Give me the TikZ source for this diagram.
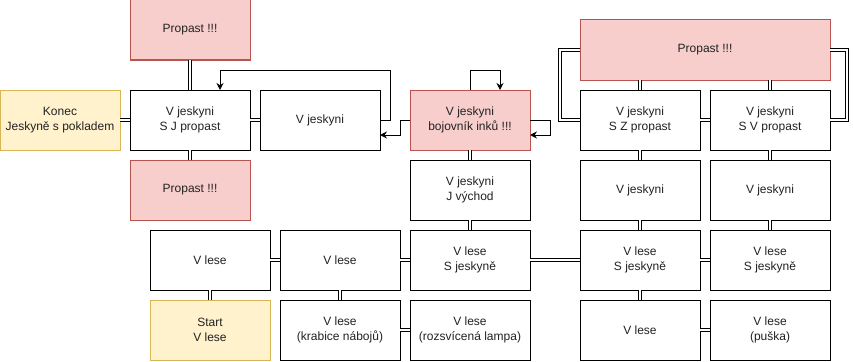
\documentclass[tikz,border=0pt]{standalone}
\usepackage{fontspec}
\setmainfont{Liberation Sans}
\usetikzlibrary{arrows.meta,positioning,calc}
\definecolor{PitFill}{HTML}{F8CECC}
\definecolor{PitLine}{HTML}{B85450}
\definecolor{EndFill}{HTML}{FFF2CC}
\definecolor{EndLine}{HTML}{D6B656}
\definecolor{TextGrey}{HTML}{222222}

\tikzset{
  room/.style={draw=black, fill=white, line width=1pt, minimum width=120pt, minimum height=60pt,
    inner sep=0pt, outer sep=0pt, align=center, text=TextGrey, font=\fontsize{12}{14.4}\selectfont},
  pit/.style={room, draw=PitLine, fill=PitFill},
  goal/.style={room, draw=EndLine, fill=EndFill},
  link/.style={draw=black, line width=1pt, double=white, double distance=2pt},
  arr/.style={draw=black, line width=1pt, -{Stealth[length=7pt,width=7pt]}}
}

\begin{document}
\begin{tikzpicture}[x=1pt, y=1pt, node distance=10pt]
    \useasboundingbox (0,0) rectangle (853,-361);
    % cave, left part
    \node[room] (sj) at (190,-120) {V jeskyni\\S J propast};
    \node[goal, left=of sj] (konec) {Konec\\Jeskyně s pokladem};
    \node[pit, above=30pt of sj] (propT) {Propast !!!};
    \node[pit, below=of sj] (propB) {Propast !!!};
    \node[room, right=of sj] (jes1) {V jeskyni};
    \node[pit, right=30pt of jes1] (boj) {V jeskyni\\bojovník inků !!!};
    \node[room, below=of boj] (jvych) {V jeskyni\\J východ};
    % forest
    \node[room, below=of jvych] (sjes1) {V lese\\S jeskyně};
    \node[room, left=of sjes1] (les2) {V lese};
    \node[room, left=of les2] (les1) {V lese};
    \node[goal, below=of les1] (start) {Start\\V lese};
    \node[room, below=of les2] (krab) {V lese\\(krabice nábojů)};
    \node[room, below=of sjes1] (lampa) {V lese\\(rozsvícená lampa)};
    \node[room, right=50pt of sjes1] (sjes2) {V lese\\S jeskyně};
    \node[room, right=of sjes2] (sjes3) {V lese\\S jeskyně};
    \node[room, below=of sjes2] (les3) {V lese};
    \node[room, right=of les3] (puska) {V lese\\(puška)};
    % cave, right part
    \node[room, above=of sjes2] (jes2) {V jeskyni};
    \node[room, above=of sjes3] (jes3) {V jeskyni};
    \node[room, above=of jes2] (sz) {V jeskyni\\S Z propast};
    \node[room, above=of jes3] (sv) {V jeskyni\\S V propast};
    \node[pit, minimum width=250pt] (propR) at (705,-50) {Propast !!!};

    % two-way passages
    \draw[link] (propT) -- (sj);
    \draw[link] (konec) -- (sj);
    \draw[link] (sj) -- (jes1);
    \draw[link] (sj) -- (propB);
    \draw[link] (boj) -- (jvych);
    \draw[link] (jvych) -- (sjes1);
    \draw[link] (les1) -- (les2);
    \draw[link] (les2) -- (sjes1);
    \draw[link] (sjes1) -- (sjes2);
    \draw[link] (sjes2) -- (sjes3);
    \draw[link] (les1) -- (start);
    \draw[link] (les2) -- (krab);
    \draw[link] (krab) -- (lampa);
    \draw[link] (sjes2) -- (les3);
    \draw[link] (les3) -- (puska);
    \draw[link] (sjes2) -- (jes2);
    \draw[link] (sjes3) -- (jes3);
    \draw[link] (jes2) -- (sz);
    \draw[link] (jes3) -- (sv);
    \draw[link] (sz) -- (sv);
    \draw[link] (propR.south -| sz) -- (sz);
    \draw[link] (propR.south -| sv) -- (sv);
    \draw[link] (propR.west) -- ++(-20,0) |- (sz.west);
    \draw[link] (propR.east) -- ++(17,0) |- (sv.east);

    % one-way passages
    \draw[arr] (jes1.east) -- ++(10,0) |- ([xshift=30pt,yshift=20pt]sj.north) -- ([xshift=30pt]sj.north);
    \draw[arr] (boj.west) -- ++(-10,0) |- ([yshift=-15pt]jes1.east);
    \draw[arr] (boj.north) -- ++(0,20) -| ([xshift=30pt]boj.north);
    \draw[arr] (boj.east) -- ++(20,0) |- ([yshift=-15pt]boj.east);
\end{tikzpicture}
\end{document}
